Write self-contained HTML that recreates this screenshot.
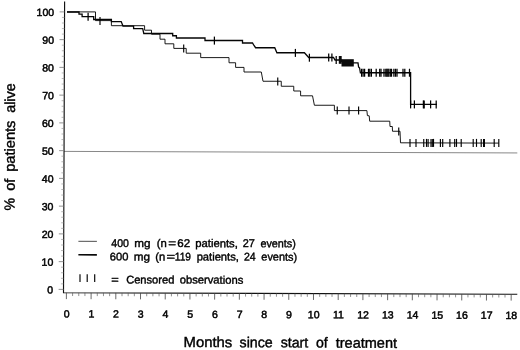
<!DOCTYPE html>
<html><head><meta charset="utf-8"><title>Survival curves</title>
<style>html,body{margin:0;padding:0;background:#fff;}body{width:520px;height:350px;overflow:hidden;font-family:"Liberation Sans",sans-serif;}svg{display:block;will-change:transform;}</style>
</head><body>
<svg width="520" height="350" viewBox="0 0 520 350">
<rect width="520" height="350" fill="#fff"/>
<line x1="64.04" y1="151.4" x2="517.3" y2="152.94" stroke="#555" stroke-width="0.7"/>
<path d="M64.60,1.5 L63.51,292.7 L517.3,294.24" fill="none" stroke="#111" stroke-width="1.15" stroke-linejoin="miter"/>
<line x1="58.62" y1="289.38" x2="63.52" y2="289.40" stroke="#777" stroke-width="0.8"/>
<line x1="60.94" y1="283.85" x2="63.54" y2="283.85" stroke="#888" stroke-width="0.6"/>
<line x1="60.96" y1="278.30" x2="63.56" y2="278.30" stroke="#888" stroke-width="0.6"/>
<line x1="60.99" y1="272.75" x2="63.59" y2="272.75" stroke="#888" stroke-width="0.6"/>
<line x1="61.01" y1="267.20" x2="63.61" y2="267.20" stroke="#888" stroke-width="0.6"/>
<line x1="58.73" y1="261.63" x2="63.63" y2="261.65" stroke="#777" stroke-width="0.8"/>
<line x1="61.05" y1="256.10" x2="63.65" y2="256.10" stroke="#888" stroke-width="0.6"/>
<line x1="61.07" y1="250.55" x2="63.67" y2="250.55" stroke="#888" stroke-width="0.6"/>
<line x1="61.09" y1="245.00" x2="63.69" y2="245.00" stroke="#888" stroke-width="0.6"/>
<line x1="61.11" y1="239.45" x2="63.71" y2="239.45" stroke="#888" stroke-width="0.6"/>
<line x1="58.83" y1="233.88" x2="63.73" y2="233.90" stroke="#777" stroke-width="0.8"/>
<line x1="61.15" y1="228.35" x2="63.75" y2="228.35" stroke="#888" stroke-width="0.6"/>
<line x1="61.17" y1="222.80" x2="63.77" y2="222.80" stroke="#888" stroke-width="0.6"/>
<line x1="61.19" y1="217.25" x2="63.79" y2="217.25" stroke="#888" stroke-width="0.6"/>
<line x1="61.21" y1="211.70" x2="63.81" y2="211.70" stroke="#888" stroke-width="0.6"/>
<line x1="58.93" y1="206.13" x2="63.83" y2="206.15" stroke="#777" stroke-width="0.8"/>
<line x1="61.26" y1="200.60" x2="63.86" y2="200.60" stroke="#888" stroke-width="0.6"/>
<line x1="61.28" y1="195.05" x2="63.88" y2="195.05" stroke="#888" stroke-width="0.6"/>
<line x1="61.30" y1="189.50" x2="63.90" y2="189.50" stroke="#888" stroke-width="0.6"/>
<line x1="61.32" y1="183.95" x2="63.92" y2="183.95" stroke="#888" stroke-width="0.6"/>
<line x1="59.04" y1="178.38" x2="63.94" y2="178.40" stroke="#777" stroke-width="0.8"/>
<line x1="61.36" y1="172.85" x2="63.96" y2="172.85" stroke="#888" stroke-width="0.6"/>
<line x1="61.38" y1="167.30" x2="63.98" y2="167.30" stroke="#888" stroke-width="0.6"/>
<line x1="61.40" y1="161.75" x2="64.00" y2="161.75" stroke="#888" stroke-width="0.6"/>
<line x1="61.42" y1="156.20" x2="64.02" y2="156.20" stroke="#888" stroke-width="0.6"/>
<line x1="59.14" y1="150.63" x2="64.04" y2="150.65" stroke="#777" stroke-width="0.8"/>
<line x1="61.46" y1="145.10" x2="64.06" y2="145.10" stroke="#888" stroke-width="0.6"/>
<line x1="61.48" y1="139.55" x2="64.08" y2="139.55" stroke="#888" stroke-width="0.6"/>
<line x1="61.50" y1="134.00" x2="64.10" y2="134.00" stroke="#888" stroke-width="0.6"/>
<line x1="61.53" y1="128.45" x2="64.13" y2="128.45" stroke="#888" stroke-width="0.6"/>
<line x1="59.25" y1="122.88" x2="64.15" y2="122.90" stroke="#777" stroke-width="0.8"/>
<line x1="61.57" y1="117.35" x2="64.17" y2="117.35" stroke="#888" stroke-width="0.6"/>
<line x1="61.59" y1="111.80" x2="64.19" y2="111.80" stroke="#888" stroke-width="0.6"/>
<line x1="61.61" y1="106.25" x2="64.21" y2="106.25" stroke="#888" stroke-width="0.6"/>
<line x1="61.63" y1="100.70" x2="64.23" y2="100.70" stroke="#888" stroke-width="0.6"/>
<line x1="59.35" y1="95.13" x2="64.25" y2="95.15" stroke="#777" stroke-width="0.8"/>
<line x1="61.67" y1="89.60" x2="64.27" y2="89.60" stroke="#888" stroke-width="0.6"/>
<line x1="61.69" y1="84.05" x2="64.29" y2="84.05" stroke="#888" stroke-width="0.6"/>
<line x1="61.71" y1="78.50" x2="64.31" y2="78.50" stroke="#888" stroke-width="0.6"/>
<line x1="61.73" y1="72.95" x2="64.33" y2="72.95" stroke="#888" stroke-width="0.6"/>
<line x1="59.45" y1="67.38" x2="64.35" y2="67.40" stroke="#777" stroke-width="0.8"/>
<line x1="61.77" y1="61.85" x2="64.37" y2="61.85" stroke="#888" stroke-width="0.6"/>
<line x1="61.80" y1="56.30" x2="64.40" y2="56.30" stroke="#888" stroke-width="0.6"/>
<line x1="61.82" y1="50.75" x2="64.42" y2="50.75" stroke="#888" stroke-width="0.6"/>
<line x1="61.84" y1="45.20" x2="64.44" y2="45.20" stroke="#888" stroke-width="0.6"/>
<line x1="59.56" y1="39.63" x2="64.46" y2="39.65" stroke="#777" stroke-width="0.8"/>
<line x1="61.88" y1="34.10" x2="64.48" y2="34.10" stroke="#888" stroke-width="0.6"/>
<line x1="61.90" y1="28.55" x2="64.50" y2="28.55" stroke="#888" stroke-width="0.6"/>
<line x1="61.92" y1="23.00" x2="64.52" y2="23.00" stroke="#888" stroke-width="0.6"/>
<line x1="61.94" y1="17.45" x2="64.54" y2="17.45" stroke="#888" stroke-width="0.6"/>
<line x1="59.66" y1="11.88" x2="64.56" y2="11.90" stroke="#777" stroke-width="0.8"/>
<line x1="66.40" y1="292.71" x2="66.38" y2="299.11" stroke="#444" stroke-width="0.8"/>
<line x1="72.58" y1="292.73" x2="72.58" y2="296.03" stroke="#555" stroke-width="0.65"/>
<line x1="78.76" y1="292.75" x2="78.76" y2="296.05" stroke="#555" stroke-width="0.65"/>
<line x1="84.93" y1="292.77" x2="84.93" y2="296.07" stroke="#555" stroke-width="0.65"/>
<line x1="91.11" y1="292.79" x2="91.09" y2="299.19" stroke="#444" stroke-width="0.8"/>
<line x1="97.29" y1="292.81" x2="97.29" y2="296.11" stroke="#555" stroke-width="0.65"/>
<line x1="103.47" y1="292.84" x2="103.47" y2="296.14" stroke="#555" stroke-width="0.65"/>
<line x1="109.64" y1="292.86" x2="109.64" y2="296.16" stroke="#555" stroke-width="0.65"/>
<line x1="115.82" y1="292.88" x2="115.80" y2="299.28" stroke="#444" stroke-width="0.8"/>
<line x1="122.00" y1="292.90" x2="122.00" y2="296.20" stroke="#555" stroke-width="0.65"/>
<line x1="128.18" y1="292.92" x2="128.18" y2="296.22" stroke="#555" stroke-width="0.65"/>
<line x1="134.35" y1="292.94" x2="134.35" y2="296.24" stroke="#555" stroke-width="0.65"/>
<line x1="140.53" y1="292.96" x2="140.51" y2="299.36" stroke="#444" stroke-width="0.8"/>
<line x1="146.71" y1="292.98" x2="146.71" y2="296.28" stroke="#555" stroke-width="0.65"/>
<line x1="152.88" y1="293.00" x2="152.88" y2="296.30" stroke="#555" stroke-width="0.65"/>
<line x1="159.06" y1="293.02" x2="159.06" y2="296.32" stroke="#555" stroke-width="0.65"/>
<line x1="165.24" y1="293.05" x2="165.22" y2="299.45" stroke="#444" stroke-width="0.8"/>
<line x1="171.42" y1="293.07" x2="171.42" y2="296.37" stroke="#555" stroke-width="0.65"/>
<line x1="177.60" y1="293.09" x2="177.60" y2="296.39" stroke="#555" stroke-width="0.65"/>
<line x1="183.77" y1="293.11" x2="183.77" y2="296.41" stroke="#555" stroke-width="0.65"/>
<line x1="189.95" y1="293.13" x2="189.93" y2="299.53" stroke="#444" stroke-width="0.8"/>
<line x1="196.13" y1="293.15" x2="196.13" y2="296.45" stroke="#555" stroke-width="0.65"/>
<line x1="202.31" y1="293.17" x2="202.31" y2="296.47" stroke="#555" stroke-width="0.65"/>
<line x1="208.48" y1="293.19" x2="208.48" y2="296.49" stroke="#555" stroke-width="0.65"/>
<line x1="214.66" y1="293.21" x2="214.64" y2="299.61" stroke="#444" stroke-width="0.8"/>
<line x1="220.84" y1="293.23" x2="220.84" y2="296.53" stroke="#555" stroke-width="0.65"/>
<line x1="227.02" y1="293.26" x2="227.02" y2="296.56" stroke="#555" stroke-width="0.65"/>
<line x1="233.19" y1="293.28" x2="233.19" y2="296.58" stroke="#555" stroke-width="0.65"/>
<line x1="239.37" y1="293.30" x2="239.35" y2="299.70" stroke="#444" stroke-width="0.8"/>
<line x1="245.55" y1="293.32" x2="245.55" y2="296.62" stroke="#555" stroke-width="0.65"/>
<line x1="251.73" y1="293.34" x2="251.73" y2="296.64" stroke="#555" stroke-width="0.65"/>
<line x1="257.90" y1="293.36" x2="257.90" y2="296.66" stroke="#555" stroke-width="0.65"/>
<line x1="264.08" y1="293.38" x2="264.06" y2="299.78" stroke="#444" stroke-width="0.8"/>
<line x1="270.26" y1="293.40" x2="270.26" y2="296.70" stroke="#555" stroke-width="0.65"/>
<line x1="276.44" y1="293.42" x2="276.44" y2="296.72" stroke="#555" stroke-width="0.65"/>
<line x1="282.61" y1="293.44" x2="282.61" y2="296.74" stroke="#555" stroke-width="0.65"/>
<line x1="288.79" y1="293.47" x2="288.77" y2="299.87" stroke="#444" stroke-width="0.8"/>
<line x1="294.97" y1="293.49" x2="294.97" y2="296.79" stroke="#555" stroke-width="0.65"/>
<line x1="301.14" y1="293.51" x2="301.14" y2="296.81" stroke="#555" stroke-width="0.65"/>
<line x1="307.32" y1="293.53" x2="307.32" y2="296.83" stroke="#555" stroke-width="0.65"/>
<line x1="313.50" y1="293.55" x2="313.48" y2="299.95" stroke="#444" stroke-width="0.8"/>
<line x1="319.68" y1="293.57" x2="319.68" y2="296.87" stroke="#555" stroke-width="0.65"/>
<line x1="325.86" y1="293.59" x2="325.86" y2="296.89" stroke="#555" stroke-width="0.65"/>
<line x1="332.03" y1="293.61" x2="332.03" y2="296.91" stroke="#555" stroke-width="0.65"/>
<line x1="338.21" y1="293.63" x2="338.19" y2="300.03" stroke="#444" stroke-width="0.8"/>
<line x1="344.39" y1="293.66" x2="344.39" y2="296.96" stroke="#555" stroke-width="0.65"/>
<line x1="350.57" y1="293.68" x2="350.57" y2="296.98" stroke="#555" stroke-width="0.65"/>
<line x1="356.74" y1="293.70" x2="356.74" y2="297.00" stroke="#555" stroke-width="0.65"/>
<line x1="362.92" y1="293.72" x2="362.90" y2="300.12" stroke="#444" stroke-width="0.8"/>
<line x1="369.10" y1="293.74" x2="369.10" y2="297.04" stroke="#555" stroke-width="0.65"/>
<line x1="375.27" y1="293.76" x2="375.27" y2="297.06" stroke="#555" stroke-width="0.65"/>
<line x1="381.45" y1="293.78" x2="381.45" y2="297.08" stroke="#555" stroke-width="0.65"/>
<line x1="387.63" y1="293.80" x2="387.61" y2="300.20" stroke="#444" stroke-width="0.8"/>
<line x1="393.81" y1="293.82" x2="393.81" y2="297.12" stroke="#555" stroke-width="0.65"/>
<line x1="399.99" y1="293.84" x2="399.99" y2="297.14" stroke="#555" stroke-width="0.65"/>
<line x1="406.16" y1="293.87" x2="406.16" y2="297.17" stroke="#555" stroke-width="0.65"/>
<line x1="412.34" y1="293.89" x2="412.32" y2="300.29" stroke="#444" stroke-width="0.8"/>
<line x1="418.52" y1="293.91" x2="418.52" y2="297.21" stroke="#555" stroke-width="0.65"/>
<line x1="424.70" y1="293.93" x2="424.70" y2="297.23" stroke="#555" stroke-width="0.65"/>
<line x1="430.87" y1="293.95" x2="430.87" y2="297.25" stroke="#555" stroke-width="0.65"/>
<line x1="437.05" y1="293.97" x2="437.03" y2="300.37" stroke="#444" stroke-width="0.8"/>
<line x1="443.23" y1="293.99" x2="443.23" y2="297.29" stroke="#555" stroke-width="0.65"/>
<line x1="449.40" y1="294.01" x2="449.40" y2="297.31" stroke="#555" stroke-width="0.65"/>
<line x1="455.58" y1="294.03" x2="455.58" y2="297.33" stroke="#555" stroke-width="0.65"/>
<line x1="461.76" y1="294.05" x2="461.74" y2="300.45" stroke="#444" stroke-width="0.8"/>
<line x1="467.94" y1="294.08" x2="467.94" y2="297.38" stroke="#555" stroke-width="0.65"/>
<line x1="474.12" y1="294.10" x2="474.12" y2="297.40" stroke="#555" stroke-width="0.65"/>
<line x1="480.29" y1="294.12" x2="480.29" y2="297.42" stroke="#555" stroke-width="0.65"/>
<line x1="486.47" y1="294.14" x2="486.45" y2="300.54" stroke="#444" stroke-width="0.8"/>
<line x1="492.65" y1="294.16" x2="492.65" y2="297.46" stroke="#555" stroke-width="0.65"/>
<line x1="498.83" y1="294.18" x2="498.83" y2="297.48" stroke="#555" stroke-width="0.65"/>
<line x1="505.00" y1="294.20" x2="505.00" y2="297.50" stroke="#555" stroke-width="0.65"/>
<line x1="511.18" y1="294.22" x2="511.16" y2="300.62" stroke="#444" stroke-width="0.8"/>
<g font-family="Liberation Sans, sans-serif" font-size="10.5" fill="#000" stroke="#000" stroke-width="0.5">
<text x="53.16" y="293.60" text-anchor="end" transform="rotate(0.2 53.16 293.60)">0</text>
<text x="53.25" y="265.85" text-anchor="end" transform="rotate(0.2 53.25 265.85)">10</text>
<text x="53.35" y="238.10" text-anchor="end" transform="rotate(0.2 53.35 238.10)">20</text>
<text x="53.44" y="210.35" text-anchor="end" transform="rotate(0.2 53.44 210.35)">30</text>
<text x="53.53" y="182.60" text-anchor="end" transform="rotate(0.2 53.53 182.60)">40</text>
<text x="53.63" y="154.85" text-anchor="end" transform="rotate(0.2 53.63 154.85)">50</text>
<text x="53.72" y="127.10" text-anchor="end" transform="rotate(0.2 53.72 127.10)">60</text>
<text x="53.82" y="99.35" text-anchor="end" transform="rotate(0.2 53.82 99.35)">70</text>
<text x="53.91" y="71.60" text-anchor="end" transform="rotate(0.2 53.91 71.60)">80</text>
<text x="54.01" y="43.85" text-anchor="end" transform="rotate(0.2 54.01 43.85)">90</text>
<text x="54.10" y="16.10" text-anchor="end" transform="rotate(0.2 54.10 16.10)">100</text>
<text x="66.60" y="317.40" text-anchor="middle" transform="rotate(0.2 66.60 317.40)">0</text>
<text x="91.31" y="317.49" text-anchor="middle" transform="rotate(0.2 91.31 317.49)">1</text>
<text x="116.02" y="317.57" text-anchor="middle" transform="rotate(0.2 116.02 317.57)">2</text>
<text x="140.73" y="317.65" text-anchor="middle" transform="rotate(0.2 140.73 317.65)">3</text>
<text x="165.44" y="317.74" text-anchor="middle" transform="rotate(0.2 165.44 317.74)">4</text>
<text x="190.15" y="317.82" text-anchor="middle" transform="rotate(0.2 190.15 317.82)">5</text>
<text x="214.86" y="317.91" text-anchor="middle" transform="rotate(0.2 214.86 317.91)">6</text>
<text x="239.57" y="317.99" text-anchor="middle" transform="rotate(0.2 239.57 317.99)">7</text>
<text x="264.28" y="318.07" text-anchor="middle" transform="rotate(0.2 264.28 318.07)">8</text>
<text x="288.99" y="318.16" text-anchor="middle" transform="rotate(0.2 288.99 318.16)">9</text>
<text x="313.70" y="318.24" text-anchor="middle" transform="rotate(0.2 313.70 318.24)">10</text>
<text x="338.41" y="318.33" text-anchor="middle" transform="rotate(0.2 338.41 318.33)">11</text>
<text x="363.12" y="318.41" text-anchor="middle" transform="rotate(0.2 363.12 318.41)">12</text>
<text x="387.83" y="318.49" text-anchor="middle" transform="rotate(0.2 387.83 318.49)">13</text>
<text x="412.54" y="318.58" text-anchor="middle" transform="rotate(0.2 412.54 318.58)">14</text>
<text x="437.25" y="318.66" text-anchor="middle" transform="rotate(0.2 437.25 318.66)">15</text>
<text x="461.96" y="318.75" text-anchor="middle" transform="rotate(0.2 461.96 318.75)">16</text>
<text x="486.67" y="318.83" text-anchor="middle" transform="rotate(0.2 486.67 318.83)">17</text>
<text x="511.38" y="318.91" text-anchor="middle" transform="rotate(0.2 511.38 318.91)">18</text>
</g>
<g font-family="Liberation Sans, sans-serif" font-size="14.5" fill="#000" stroke="#000" stroke-width="0.4">
<text x="183.57" y="347.00" textLength="48.66" lengthAdjust="spacingAndGlyphs" transform="rotate(0.2 183.57 347.00)">Months</text>
<text x="239.58" y="347.20" textLength="33.11" lengthAdjust="spacingAndGlyphs" transform="rotate(0.2 239.58 347.20)">since</text>
<text x="280.75" y="347.35" textLength="27.48" lengthAdjust="spacingAndGlyphs" transform="rotate(0.2 280.75 347.35)">start</text>
<text x="316.04" y="347.50" textLength="11.76" lengthAdjust="spacingAndGlyphs" transform="rotate(0.2 316.04 347.50)">of</text>
<text x="335.71" y="347.70" textLength="61.27" lengthAdjust="spacingAndGlyphs" transform="rotate(0.2 335.71 347.70)">treatment</text>
</g>
<g font-family="Liberation Sans, sans-serif" font-size="14.5" fill="#000" stroke="#000" stroke-width="0.4">
<text transform="translate(14.60 210.48) rotate(-89.8)" textLength="12.57" lengthAdjust="spacingAndGlyphs">%</text>
<text transform="translate(14.65 190.71) rotate(-89.8)" textLength="12.03" lengthAdjust="spacingAndGlyphs">of</text>
<text transform="translate(14.75 171.79) rotate(-89.8)" textLength="51.21" lengthAdjust="spacingAndGlyphs">patients</text>
<text transform="translate(14.90 112.83) rotate(-89.8)" textLength="29.50" lengthAdjust="spacingAndGlyphs">alive</text>
</g>
<line x1="78.4" y1="241.3" x2="96.9" y2="241.35" stroke="#111" stroke-width="0.75"/>
<line x1="78.4" y1="254.8" x2="96.9" y2="254.85" stroke="#0a0a0a" stroke-width="1.55"/>
<line x1="80.0" y1="274.2" x2="80.0" y2="282" stroke="#000" stroke-width="1.15"/>
<line x1="87.2" y1="274.2" x2="87.2" y2="282" stroke="#000" stroke-width="1.15"/>
<line x1="94.7" y1="274.2" x2="94.7" y2="282" stroke="#000" stroke-width="1.15"/>
<g font-family="Liberation Sans, sans-serif" font-size="11.2" fill="#000" stroke="#000" stroke-width="0.4">
<text x="111.32" y="247.00" textLength="17.54" lengthAdjust="spacingAndGlyphs" transform="rotate(0.2 111.32 247.00)">400</text>
<text x="134.35" y="247.00" textLength="16.23" lengthAdjust="spacingAndGlyphs" transform="rotate(0.2 134.35 247.00)">mg</text>
<text x="156.66" y="247.00" textLength="10.06" lengthAdjust="spacingAndGlyphs" transform="rotate(0.2 156.66 247.00)">(n</text>
<text x="168.25" y="247.00" textLength="7.86" lengthAdjust="spacingAndGlyphs" transform="rotate(0.2 168.25 247.00)">=</text>
<text x="177.28" y="247.00" textLength="12.85" lengthAdjust="spacingAndGlyphs" transform="rotate(0.2 177.28 247.00)">62</text>
<text x="195.27" y="247.05" textLength="42.55" lengthAdjust="spacingAndGlyphs" transform="rotate(0.2 195.27 247.05)">patients,</text>
<text x="242.70" y="247.10" textLength="12.08" lengthAdjust="spacingAndGlyphs" transform="rotate(0.2 242.70 247.10)">27</text>
<text x="260.47" y="247.15" textLength="35.39" lengthAdjust="spacingAndGlyphs" transform="rotate(0.2 260.47 247.15)">events)</text>
<text x="109.86" y="260.40" textLength="18.51" lengthAdjust="spacingAndGlyphs" transform="rotate(0.2 109.86 260.40)">600</text>
<text x="133.70" y="260.40" textLength="16.24" lengthAdjust="spacingAndGlyphs" transform="rotate(0.2 133.70 260.40)">mg</text>
<text x="155.27" y="260.40" textLength="10.00" lengthAdjust="spacingAndGlyphs" transform="rotate(0.2 155.27 260.40)">(n</text>
<text x="166.43" y="260.40" textLength="8.61" lengthAdjust="spacingAndGlyphs" transform="rotate(0.2 166.43 260.40)">=</text>
<text x="174.87" y="260.40" textLength="16.10" lengthAdjust="spacingAndGlyphs" transform="rotate(0.2 174.87 260.40)">119</text>
<text x="196.64" y="260.45" textLength="42.23" lengthAdjust="spacingAndGlyphs" transform="rotate(0.2 196.64 260.45)">patients,</text>
<text x="243.97" y="260.50" textLength="11.71" lengthAdjust="spacingAndGlyphs" transform="rotate(0.2 243.97 260.50)">24</text>
<text x="261.36" y="260.55" textLength="35.73" lengthAdjust="spacingAndGlyphs" transform="rotate(0.2 261.36 260.55)">events)</text>
<text x="111.35" y="283.40" textLength="7.51" lengthAdjust="spacingAndGlyphs" transform="rotate(0.2 111.35 283.40)">=</text>
<text x="126.14" y="283.40" textLength="48.21" lengthAdjust="spacingAndGlyphs" transform="rotate(0.2 126.14 283.40)">Censored</text>
<text x="179.75" y="283.50" textLength="63.50" lengthAdjust="spacingAndGlyphs" transform="rotate(0.2 179.75 283.50)">observations</text>
</g>
<path d="M67.00,11.90 L95.50,11.90 L95.50,20.60 L111.40,20.60 L111.40,25.70 L144.60,25.70 L144.60,30.20 L151.50,30.20 L151.50,34.20 L160.00,34.20 L160.00,39.20 L165.00,39.20 L165.00,43.80 L173.80,43.80 L173.80,48.40 L186.20,48.40 L186.20,53.20 L200.70,53.20 L200.70,57.60 L229.00,57.60 L229.00,62.75 L235.60,62.75 L235.60,67.40 L244.00,67.40 L244.00,72.00 L261.30,72.00 L263.00,81.25 L281.25,81.25 L281.25,86.25 L293.75,86.25 L293.75,91.00 L300.60,91.00 L300.60,95.80 L312.50,95.80 L314.40,105.25 L334.40,105.25 L334.40,110.60 L366.90,110.60 L367.40,115.60 L369.20,115.80 L369.70,121.20 L389.75,121.20 L390.00,126.50 L392.30,126.50 L392.50,131.25 L400.00,131.25 L400.50,142.80 L498.80,143.10" fill="none" stroke="#000" stroke-width="0.9"/>
<path d="M67.00,12.00 L79.00,12.00 L79.00,14.10 L82.10,14.10 L82.10,16.70 L93.70,16.70 L93.70,19.50 L111.40,19.50 L111.40,21.60 L121.20,21.60 L123.00,26.10 L133.60,26.10 L133.60,28.60 L142.70,28.60 L143.80,33.50 L172.70,33.50 L172.70,35.75 L176.40,35.75 L176.40,38.00 L205.00,38.00 L205.00,40.50 L242.50,40.50 L242.50,43.00 L252.50,43.00 L254.00,45.50 L255.60,47.75 L274.75,47.75 L276.90,52.75 L304.40,52.75 L308.75,57.50 L333.50,57.50 L335.00,60.00 L341.50,60.00 L341.50,61.30 L347.00,61.30 L347.00,62.80 L358.00,62.80 L358.60,67.00 L359.60,68.00 L360.40,72.75 L410.60,72.75 L410.60,104.40 L436.90,104.40" fill="none" stroke="#050505" stroke-width="1.3"/>
<line x1="100" y1="17" x2="100" y2="25" stroke="#000" stroke-width="1.15"/>
<line x1="183.7" y1="44.6" x2="183.7" y2="52.6" stroke="#000" stroke-width="1.15"/>
<line x1="277.75" y1="77.5" x2="277.75" y2="85.5" stroke="#000" stroke-width="1.15"/>
<line x1="337.25" y1="106.6" x2="337.25" y2="114.6" stroke="#000" stroke-width="1.15"/>
<line x1="349" y1="106.6" x2="349" y2="114.6" stroke="#000" stroke-width="1.15"/>
<line x1="358.6" y1="106.6" x2="358.6" y2="114.6" stroke="#000" stroke-width="1.15"/>
<line x1="398.75" y1="127.5" x2="398.75" y2="135.5" stroke="#000" stroke-width="1.15"/>
<line x1="410" y1="138.9" x2="410" y2="146.9" stroke="#000" stroke-width="1.15"/>
<line x1="416" y1="138.9" x2="416" y2="146.9" stroke="#000" stroke-width="1.15"/>
<line x1="423.75" y1="138.9" x2="423.75" y2="146.9" stroke="#000" stroke-width="1.15"/>
<line x1="426.5" y1="138.9" x2="426.5" y2="146.9" stroke="#000" stroke-width="1.15"/>
<line x1="428.1" y1="138.9" x2="428.1" y2="146.9" stroke="#000" stroke-width="1.15"/>
<line x1="431" y1="138.9" x2="431" y2="146.9" stroke="#000" stroke-width="1.15"/>
<line x1="432.3" y1="138.9" x2="432.3" y2="146.9" stroke="#000" stroke-width="1.15"/>
<line x1="433.5" y1="138.9" x2="433.5" y2="146.9" stroke="#000" stroke-width="1.15"/>
<line x1="440.4" y1="138.9" x2="440.4" y2="146.9" stroke="#000" stroke-width="1.15"/>
<line x1="442.7" y1="138.9" x2="442.7" y2="146.9" stroke="#000" stroke-width="1.15"/>
<line x1="449.9" y1="138.9" x2="449.9" y2="146.9" stroke="#000" stroke-width="1.15"/>
<line x1="454.7" y1="138.9" x2="454.7" y2="146.9" stroke="#000" stroke-width="1.15"/>
<line x1="456.5" y1="138.9" x2="456.5" y2="146.9" stroke="#000" stroke-width="1.15"/>
<line x1="461.2" y1="138.9" x2="461.2" y2="146.9" stroke="#000" stroke-width="1.15"/>
<line x1="473.2" y1="138.9" x2="473.2" y2="146.9" stroke="#000" stroke-width="1.15"/>
<line x1="476.5" y1="138.9" x2="476.5" y2="146.9" stroke="#000" stroke-width="1.15"/>
<line x1="481.2" y1="138.9" x2="481.2" y2="146.9" stroke="#000" stroke-width="1.15"/>
<line x1="483.6" y1="138.9" x2="483.6" y2="146.9" stroke="#000" stroke-width="1.15"/>
<line x1="484.4" y1="138.9" x2="484.4" y2="146.9" stroke="#000" stroke-width="1.15"/>
<line x1="494.2" y1="138.9" x2="494.2" y2="146.9" stroke="#000" stroke-width="1.15"/>
<line x1="498.8" y1="138.9" x2="498.8" y2="146.9" stroke="#000" stroke-width="1.15"/>
<line x1="88.1" y1="12.7" x2="88.1" y2="20.7" stroke="#000" stroke-width="1.25"/>
<line x1="214.4" y1="36.6" x2="214.4" y2="44.6" stroke="#000" stroke-width="1.25"/>
<line x1="295.4" y1="48.9" x2="295.4" y2="56.9" stroke="#000" stroke-width="1.25"/>
<line x1="309.4" y1="53.7" x2="309.4" y2="61.7" stroke="#000" stroke-width="1.25"/>
<line x1="328.7" y1="53.6" x2="328.7" y2="61.6" stroke="#000" stroke-width="1.25"/>
<line x1="331.9" y1="53.6" x2="331.9" y2="61.6" stroke="#000" stroke-width="1.25"/>
<line x1="336.2" y1="56" x2="336.2" y2="64" stroke="#000" stroke-width="1.25"/>
<line x1="361.6" y1="68.75" x2="361.6" y2="76.75" stroke="#000" stroke-width="1.25"/>
<line x1="363.1" y1="68.75" x2="363.1" y2="76.75" stroke="#000" stroke-width="1.25"/>
<line x1="364.6" y1="68.75" x2="364.6" y2="76.75" stroke="#000" stroke-width="1.25"/>
<line x1="368.5" y1="68.75" x2="368.5" y2="76.75" stroke="#000" stroke-width="1.25"/>
<line x1="369.8" y1="68.75" x2="369.8" y2="76.75" stroke="#000" stroke-width="1.25"/>
<line x1="371.4" y1="68.75" x2="371.4" y2="76.75" stroke="#000" stroke-width="1.25"/>
<line x1="376.2" y1="68.75" x2="376.2" y2="76.75" stroke="#000" stroke-width="1.25"/>
<line x1="379.7" y1="68.75" x2="379.7" y2="76.75" stroke="#000" stroke-width="1.25"/>
<line x1="381" y1="68.75" x2="381" y2="76.75" stroke="#000" stroke-width="1.25"/>
<line x1="384" y1="68.75" x2="384" y2="76.75" stroke="#000" stroke-width="1.25"/>
<line x1="385.8" y1="68.75" x2="385.8" y2="76.75" stroke="#000" stroke-width="1.25"/>
<line x1="386.8" y1="68.75" x2="386.8" y2="76.75" stroke="#000" stroke-width="1.25"/>
<line x1="387.8" y1="68.75" x2="387.8" y2="76.75" stroke="#000" stroke-width="1.25"/>
<line x1="388.8" y1="68.75" x2="388.8" y2="76.75" stroke="#000" stroke-width="1.25"/>
<line x1="390.3" y1="68.75" x2="390.3" y2="76.75" stroke="#000" stroke-width="1.25"/>
<line x1="391.5" y1="68.75" x2="391.5" y2="76.75" stroke="#000" stroke-width="1.25"/>
<line x1="393.9" y1="68.75" x2="393.9" y2="76.75" stroke="#000" stroke-width="1.25"/>
<line x1="395.5" y1="68.75" x2="395.5" y2="76.75" stroke="#000" stroke-width="1.25"/>
<line x1="397" y1="68.75" x2="397" y2="76.75" stroke="#000" stroke-width="1.25"/>
<line x1="403" y1="68.75" x2="403" y2="76.75" stroke="#000" stroke-width="1.25"/>
<line x1="404.8" y1="68.75" x2="404.8" y2="76.75" stroke="#000" stroke-width="1.25"/>
<line x1="409.5" y1="68.75" x2="409.5" y2="76.75" stroke="#000" stroke-width="1.25"/>
<line x1="410.6" y1="100.4" x2="410.6" y2="108.4" stroke="#000" stroke-width="1.25"/>
<line x1="414.4" y1="100.4" x2="414.4" y2="108.4" stroke="#000" stroke-width="1.25"/>
<line x1="423.4" y1="100.4" x2="423.4" y2="108.4" stroke="#000" stroke-width="1.25"/>
<line x1="424.2" y1="100.4" x2="424.2" y2="108.4" stroke="#000" stroke-width="1.25"/>
<line x1="430.6" y1="100.4" x2="430.6" y2="108.4" stroke="#000" stroke-width="1.25"/>
<line x1="436.2" y1="100.4" x2="436.2" y2="108.4" stroke="#000" stroke-width="1.25"/>
<rect x="338.8" y="56" width="2.9" height="7.8" fill="#0a0a0a"/>
<rect x="341.5" y="59.2" width="12.3" height="7.3" fill="#0a0a0a"/>
</svg>
</body></html>
